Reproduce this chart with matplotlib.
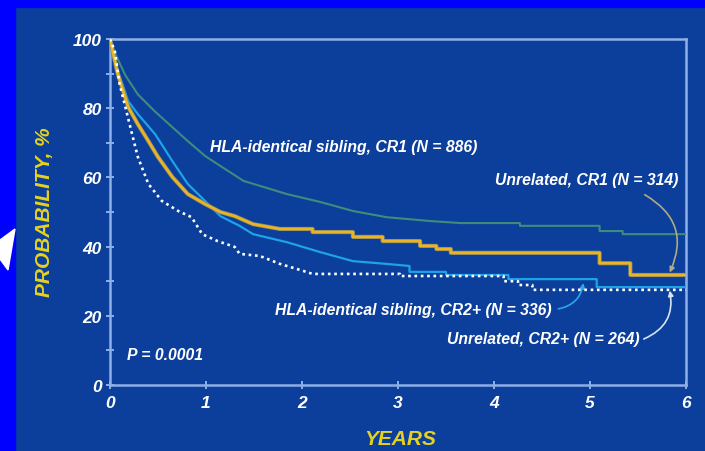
import numpy as np
import matplotlib.pyplot as plt
from matplotlib.patches import Rectangle, Polygon

# Kaplan-Meier style curves (years, probability %)
sib_cr1_t = [0, 0.05, 0.16, 0.29, 0.47, 0.65, 0.81, 0.99, 1.15, 1.39, 1.84, 2.19,
             2.53, 2.88, 3.33, 3.65, 4.27, 4.27, 5.10, 5.10, 5.34, 5.34, 6.0]
sib_cr1_s = [100, 96, 89.5, 84, 79, 74.5, 70.5, 66.2, 63.3, 59, 55.2, 52.9,
             50.3, 48.5, 47.4, 46.8, 46.8, 46, 46, 44.5, 44.5, 43.6, 43.6]

unr_cr1_t = [0, 0.08, 0.19, 0.29, 0.40, 0.50, 0.65, 0.81, 0.99, 1.15, 1.30, 1.49,
             1.77, 2.11, 2.11, 2.53, 2.53, 2.84, 2.84, 3.23, 3.23, 3.40, 3.40,
             3.55, 3.55, 5.10, 5.10, 5.42, 5.42, 6.0]
unr_cr1_s = [100, 90, 80.3, 75.4, 70.5, 65.9, 60.1, 55.2, 52.3, 50, 48.8, 46.5,
             45.1, 45.1, 44.2, 44.2, 42.8, 42.8, 41.6, 41.6, 40.2, 40.2, 39.3,
             39.3, 38.2, 38.2, 35.2, 35.2, 31.8, 31.8]

sib_cr2_t = [0, 0.08, 0.19, 0.29, 0.47, 0.65, 0.81, 0.99, 1.15, 1.35, 1.49, 1.84,
             2.19, 2.53, 2.88, 3.12, 3.12, 3.50, 3.50, 4.15, 4.15, 5.07, 5.07, 6.0]
sib_cr2_s = [100, 91, 82, 78.3, 72.5, 64.7, 58.1, 53.2, 48.8, 46, 43.6, 41.3,
             38.4, 35.8, 35, 34.4, 32.7, 32.7, 31.8, 31.8, 30.6, 30.6, 28.3, 28.3]

unr_cr2_t = [0, 0.05, 0.10, 0.16, 0.23, 0.29, 0.40, 0.54, 0.71, 0.85, 0.96, 1.12,
             1.30, 1.35, 1.56, 1.77, 2.01, 2.11, 3.02, 3.02, 4.10, 4.10, 4.25,
             4.25, 4.40, 4.40, 6.0]
unr_cr2_s = [100, 96.5, 87, 80.3, 72.5, 65.9, 58.1, 53.2, 50.3, 48.5, 43.6, 41.6,
             39.9, 37.9, 37.3, 35, 33, 32.1, 32.1, 31.5, 31.5, 30, 30, 28.9,
             28.9, 27.5, 27.5]

x_ticks = [0, 1, 2, 3, 4, 5, 6]
y_ticks = [0, 20, 40, 60, 80, 100]

BG = '#0b3f9b'
SPINE = '#8fb0e6'
YELLOW_TXT = '#e6d21e'
FONT = 'Liberation Sans'

fig = plt.figure(figsize=(7.05, 4.52), dpi=100, facecolor=BG)

# slide border + nav arrow remnant
fig.patches.append(Rectangle((0, 0), 15/705, 1, transform=fig.transFigure,
                             color='#0000ff', zorder=0))
fig.patches.append(Rectangle((0, 1 - 8/452), 1, 8/452, transform=fig.transFigure,
                             color='#0000ff', zorder=0))
tri = [(0, 241), (15, 230), (8, 271), (0, 260)]
fig.patches.append(Polygon([(x/705, 1 - y/452) for x, y in tri], closed=True,
                           transform=fig.transFigure, color='white', zorder=1))

ax = fig.add_axes([110/705, 1 - 386/452, 576/705, 346/452])
ax.set_facecolor(BG)

ax.plot(sib_cr1_t, sib_cr1_s, color='#3f8c7c', lw=1.5, zorder=3)
ax.plot(sib_cr2_t, sib_cr2_s, color='#1ea2e8', lw=1.6, zorder=4)
ax.plot(unr_cr1_t, unr_cr1_s, color='#8a8a70', lw=3.0, zorder=4.5)
ax.plot(unr_cr1_t, unr_cr1_s, color='#ecb41e', lw=1.9, zorder=5)
ax.plot(unr_cr2_t, unr_cr2_s, color='white', lw=1.9, ls=(0, (1, 1.4)), zorder=6)

ax.set_xlim(0, 6)
ax.set_ylim(0, 100)
ax.set_xticks(x_ticks)
ax.set_yticks(y_ticks)
ax.set_yticks(range(10, 100, 20), minor=True)
for s in ax.spines.values():
    s.set_color(SPINE)
    s.set_linewidth(1.8)
ax.tick_params(which='both', colors=SPINE, direction='inout', length=6, width=1.4)
ax.tick_params(axis='y', which='major', pad=3)
ax.tick_params(axis='x', which='major', pad=4)
for lab in ax.get_xticklabels() + ax.get_yticklabels():
    lab.set_color('white')
    lab.set_fontfamily(FONT)
    lab.set_fontweight('bold')
    lab.set_fontstyle('italic')
    lab.set_fontsize(12.5)

txt = dict(color='white', family=FONT, weight='bold', style='italic', fontsize=11.3)
ax.text(1.04, 69, 'HLA-identical sibling, CR1 (N = 886)', ha='left', va='center', **txt)
ax.text(5.92, 59.5, 'Unrelated, CR1 (N = 314)', ha='right', va='center', **txt)
ax.text(4.6, 21.7, 'HLA-identical sibling, CR2+ (N = 336)', ha='right', va='center', **txt)
ax.text(5.52, 13.3, 'Unrelated, CR2+ (N = 264)', ha='right', va='center', **txt)
ax.text(0.18, 8.7, 'P = 0.0001', ha='left', va='center', **txt)

arrow = dict(arrowstyle='-|>,head_length=0.3,head_width=0.15', lw=1.2,
             shrinkA=0, shrinkB=0)
ax.annotate('', xy=(5.83, 32.5), xytext=(5.57, 55),
            arrowprops=dict(color='#b0aa80', connectionstyle='arc3,rad=-0.45', **arrow))
ax.annotate('', xy=(4.93, 29.5), xytext=(4.67, 22),
            arrowprops=dict(color='#2aa8ee', connectionstyle='arc3,rad=0.35', **arrow))
ax.annotate('', xy=(5.83, 27.3), xytext=(5.56, 13.3),
            arrowprops=dict(color='#d8e4f4', connectionstyle='arc3,rad=0.4', **arrow))

lab = dict(color=YELLOW_TXT, family=FONT, weight='bold', style='italic', fontsize=15)
fig.text(400/705, 1 - 440/452, 'YEARS', ha='center', va='center', **lab)
fig.text(45/705, 1 - 212/452, 'PROBABILITY, %', ha='center', va='center',
         rotation=90, **lab)

fig.savefig('out.png', dpi=100, facecolor=BG)
